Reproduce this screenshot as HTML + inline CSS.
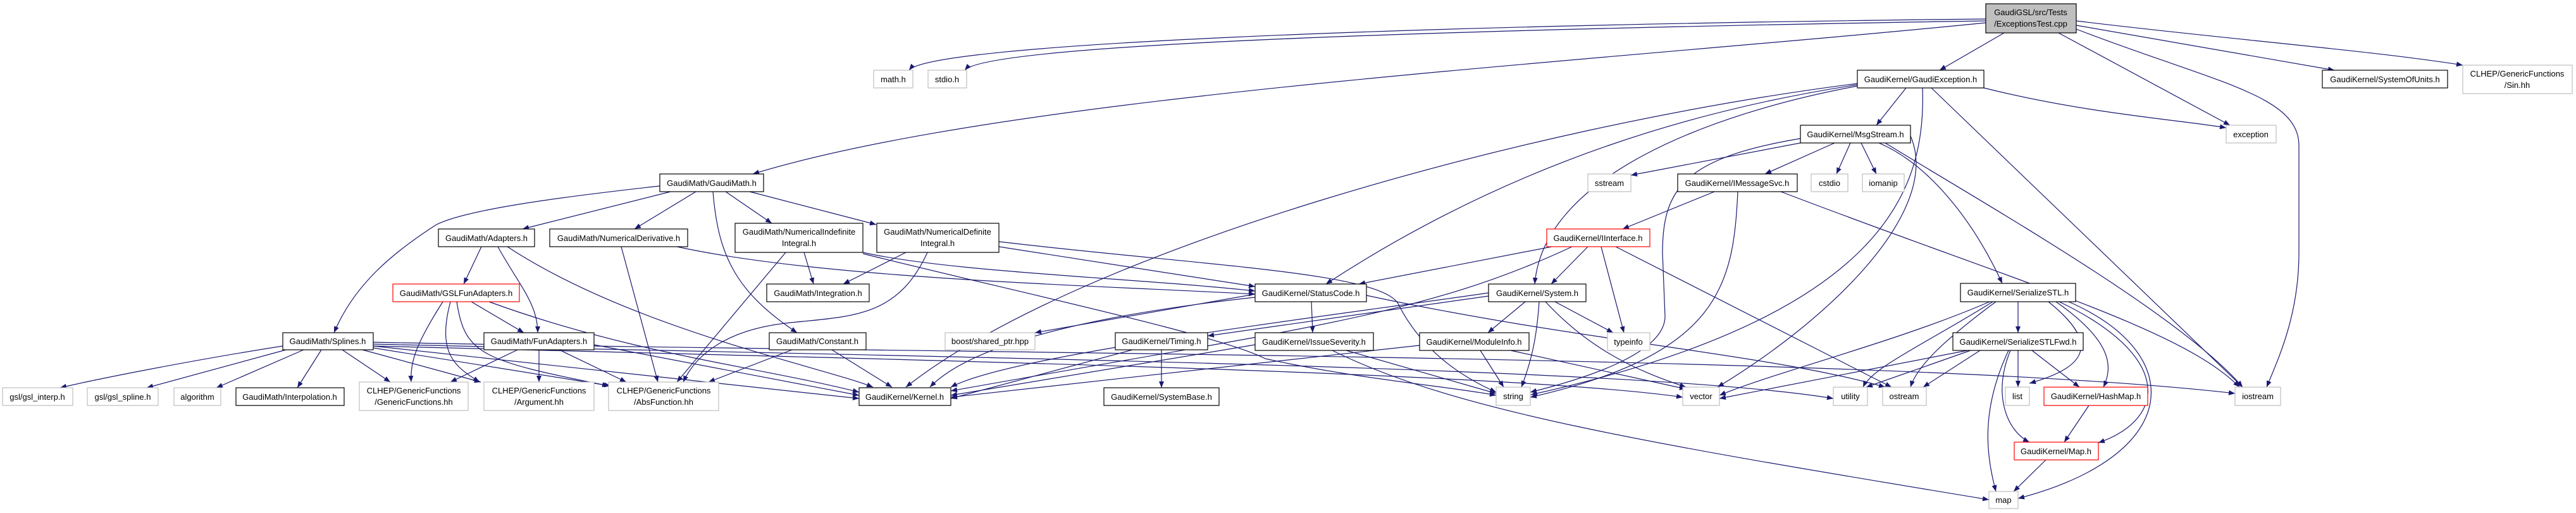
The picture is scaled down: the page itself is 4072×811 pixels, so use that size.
<!DOCTYPE html>
<html><head><meta charset="utf-8"><style>
html,body{margin:0;padding:0;background:#fff;}
svg{display:block;}
text{font-family:"Liberation Sans",sans-serif;font-size:13px;text-anchor:middle;fill:#000;}
.e{fill:none;stroke:#191970;stroke-width:1.2;marker-end:url(#a);}
.b{fill:#fff;stroke:#000;stroke-width:1.2;}
.g{fill:#fff;stroke:#bfbfbf;stroke-width:1.2;}
.r{fill:#fff;stroke:#ff0000;stroke-width:1.2;}
.s{fill:#bfbfbf;stroke:none;}
</style></head><body>
<svg width="4072" height="811" viewBox="0 0 4072 811" xmlns="http://www.w3.org/2000/svg">
<defs><marker id="a" markerUnits="userSpaceOnUse" markerWidth="11" markerHeight="9" refX="10" refY="4" orient="auto"><path d="M0,0 L10,4 L0,8 z" fill="#191970"/></marker></defs>
<g>
<!-- top node edges -->
<path class="e" d="M3139,30 C2200,40 1470,70 1437,111"/>
<path class="e" d="M3139,33 C2200,48 1560,72 1525,111"/>
<path class="e" d="M3139,36 C2500,100 1600,150 1190,275"/>
<path class="e" d="M3168,52 L3066,111"/>
<path class="e" d="M3254,52 L3525,198"/>
<path class="e" d="M3282,46 C3500,130 3634,150 3634,230 L3634,400 C3634,500 3600,570 3583,612"/>
<path class="e" d="M3282,40 L3690,111"/>
<path class="e" d="M3282,33 C3500,60 3750,80 3893,103"/>
<!-- GaudiException -->
<path class="e" d="M3013,139 L2966,198"/>
<path class="e" d="M3136,139 C3300,180 3450,190 3519,202"/>
<path class="e" d="M2936,134 C2700,170 2400,250 2096,449"/>
<path class="e" d="M2936,136 C2700,180 2440,280 2426,449"/>
<path class="e" d="M2936,132 C2400,200 1700,400 1432,612"/>
<path class="e" d="M3039,139 C3045,300 2980,500 2420,624"/>
<path class="e" d="M3053,139 L3545,612"/>
<!-- MsgStream -->
<path class="e" d="M2846,226 L2578,277"/>
<path class="e" d="M2900,226 L2790,275"/>
<path class="e" d="M2925,226 L2903,275"/>
<path class="e" d="M2942,226 L2966,275"/>
<path class="e" d="M2846,219 C2660,250 2628,300 2628,400 L2632,500 C2632,560 2500,600 2419,620"/>
<path class="e" d="M2970,226 C3050,260 3120,350 3165,448"/>
<path class="e" d="M2980,226 C3150,330 3450,500 3545,612"/>
<path class="e" d="M3020,215 C3070,330 2900,500 2715,612"/>
<!-- IMessageSvc -->
<path class="e" d="M2710,303 L2565,362"/>
<path class="e" d="M2747,303 C2740,450 2720,560 2419,628"/>
<path class="e" d="M2815,303 C3200,450 3450,520 3540,612"/>
<!-- IInterface -->
<path class="e" d="M2453,390 L2148,449"/>
<path class="e" d="M2510,390 L2452,449"/>
<path class="e" d="M2485,390 C2250,500 2050,520 1503,618"/>
<path class="e" d="M2531,390 L2567,526"/>
<path class="e" d="M2554,390 L2990,612"/>
<!-- StatusCode -->
<path class="e" d="M2073,477 L2075,526"/>
<path class="e" d="M1984,470 C1800,490 1550,530 1470,612"/>
<path class="e" d="M1984,465 L1636,526"/>
<path class="e" d="M2160,467 C2500,540 2800,560 2980,612"/>
<!-- System -->
<path class="e" d="M2353,463 C2100,500 1600,560 1503,612"/>
<path class="e" d="M2353,468 L1909,531"/>
<path class="e" d="M2411,477 L2352,526"/>
<path class="e" d="M2433,477 C2430,520 2425,560 2405,612"/>
<path class="e" d="M2458,477 L2550,526"/>
<path class="e" d="M2443,477 C2520,560 2600,590 2665,612"/>
<!-- IssueSeverity, ModuleInfo, Timing -->
<path class="e" d="M2128,554 L2365,622"/>
<path class="e" d="M1984,545 L1503,625"/>
<path class="e" d="M2106,554 C2300,650 2600,700 3144,790"/>
<path class="e" d="M2340,554 L2377,612"/>
<path class="e" d="M2388,554 L2665,615"/>
<path class="e" d="M2244,546 L1503,628"/>
<path class="e" d="M1790,553 L1503,630"/>
<path class="e" d="M1836,553 L1836,613"/>
<!-- SerializeSTL -->
<path class="e" d="M3190,477 L3190,526"/>
<path class="e" d="M3150,477 C3050,540 2960,580 2945,612"/>
<path class="e" d="M3155,477 C3070,540 3030,580 3020,612"/>
<path class="e" d="M3238,477 C3320,543 3300,580 3208,606"/>
<path class="e" d="M3250,477 C3340,540 3340,580 3325,612"/>
<path class="e" d="M3255,477 C3430,560 3430,660 3317,700"/>
<path class="e" d="M3270,477 C3460,560 3450,720 3190,788"/>
<path class="e" d="M3145,477 C3000,540 2800,590 2718,625"/>
<!-- Fwd -->
<path class="e" d="M3115,554 L2950,612"/>
<path class="e" d="M3130,554 L3040,612"/>
<path class="e" d="M3190,554 L3190,612"/>
<path class="e" d="M3212,554 L3287,612"/>
<path class="e" d="M3178,554 C3150,620 3170,680 3208,699"/>
<path class="e" d="M3175,554 C3130,650 3140,720 3155,777"/>
<path class="e" d="M3110,554 L2718,630"/>
<path class="e" d="M3302,641 L3263,699"/>
<path class="e" d="M3234,727 L3183,777"/>
<!-- GaudiMath -->
<path class="e" d="M1060,303 L826,362"/>
<path class="e" d="M1043,294 C900,310 740,330 690,355 C620,400 560,450 528,526"/>
<path class="e" d="M1100,303 L1003,362"/>
<path class="e" d="M1147,303 L1220,353"/>
<path class="e" d="M1185,303 L1385,355"/>
<path class="e" d="M1127,303 C1135,400 1160,460 1260,526"/>
<!-- Adapters -->
<path class="e" d="M761,390 L733,449"/>
<path class="e" d="M787,390 C820,450 850,480 850,526"/>
<path class="e" d="M802,390 C1000,520 1300,580 1380,612"/>
<!-- Numerical -->
<path class="e" d="M982,390 L1040,604"/>
<path class="e" d="M1070,390 C1300,440 1700,450 1984,465"/>
<path class="e" d="M1271,399 L1286,449"/>
<path class="e" d="M1242,399 L1070,604"/>
<path class="e" d="M1364,399 C1500,430 1800,440 1984,460"/>
<path class="e" d="M1364,401 C1600,460 1930,530 2000,567 C2150,600 2300,612 2365,625"/>
<path class="e" d="M1432,399 L1333,449"/>
<path class="e" d="M1466,399 C1420,500 1350,500 1250,510 C1150,520 1100,560 1080,604"/>
<path class="e" d="M1579,390 L1984,453"/>
<path class="e" d="M1579,382 C1900,420 2180,430 2210,480 C2250,560 2320,600 2365,620"/>
<!-- GSLFunAdapters -->
<path class="e" d="M745,477 L828,526"/>
<path class="e" d="M700,477 C660,540 648,570 650,604"/>
<path class="e" d="M712,477 C690,560 720,580 758,604"/>
<path class="e" d="M722,477 C735,560 760,570 962,610"/>
<path class="e" d="M773,477 C1000,560 1200,580 1358,620"/>
<!-- FunAdapters -->
<path class="e" d="M818,553 L712,604"/>
<path class="e" d="M852,553 L852,604"/>
<path class="e" d="M884,553 L990,604"/>
<path class="e" d="M939,545 L1358,625"/>
<!-- Splines -->
<path class="e" d="M447,547 C300,570 150,600 95,613"/>
<path class="e" d="M452,553 L232,613"/>
<path class="e" d="M480,553 L342,613"/>
<path class="e" d="M508,553 L470,613"/>
<path class="e" d="M541,553 L617,604"/>
<path class="e" d="M573,553 L760,604"/>
<path class="e" d="M590,550 L965,610"/>
<path class="e" d="M590,547 L1358,630"/>
<path class="e" d="M590,541 C1500,560 3000,560 3533,622"/>
<path class="e" d="M590,544 C1500,565 2600,580 2898,630"/>
<path class="e" d="M590,547 C1500,570 2400,590 2660,628"/>
<!-- Constant -->
<path class="e" d="M1252,553 L1120,604"/>
<path class="e" d="M1315,553 L1410,612"/>
</g>
<g>
<rect class="s" x="3139" y="6" width="143" height="46"/><rect x="3139" y="6" width="143" height="46" fill="#bfbfbf" stroke="#000" stroke-width="1.2"/><text x="3210" y="24">GaudiGSL/src/Tests</text><text x="3210" y="42">/ExceptionsTest.cpp</text>
<rect class="g" x="1381" y="111" width="62" height="28"/><text x="1412" y="130">math.h</text>
<rect class="g" x="1467" y="111" width="61" height="28"/><text x="1497" y="130">stdio.h</text>
<rect class="b" x="1043" y="275" width="164" height="28"/><text x="1125" y="294">GaudiMath/GaudiMath.h</text>
<rect class="b" x="2936" y="111" width="200" height="28"/><text x="3036" y="130">GaudiKernel/GaudiException.h</text>
<rect class="b" x="3671" y="111" width="198" height="28"/><text x="3770" y="130">GaudiKernel/SystemOfUnits.h</text>
<rect class="g" x="3893" y="103" width="173" height="45"/><text x="3979" y="121">CLHEP/GenericFunctions</text><text x="3979" y="139">/Sin.hh</text>
<rect class="g" x="3519" y="198" width="79" height="28"/><text x="3558" y="217">exception</text>
<rect class="b" x="2846" y="198" width="174" height="28"/><text x="2933" y="217">GaudiKernel/MsgStream.h</text>
<rect class="g" x="2510" y="275" width="68" height="28"/><text x="2544" y="294">sstream</text>
<rect class="b" x="2652" y="275" width="189" height="28"/><text x="2746" y="294">GaudiKernel/IMessageSvc.h</text>
<rect class="g" x="2863" y="275" width="58" height="28"/><text x="2892" y="294">cstdio</text>
<rect class="g" x="2944" y="275" width="66" height="28"/><text x="2977" y="294">iomanip</text>
<rect class="r" x="2445" y="362" width="163" height="28"/><text x="2526" y="381">GaudiKernel/IInterface.h</text>
<rect class="b" x="693" y="362" width="152" height="28"/><text x="769" y="381">GaudiMath/Adapters.h</text>
<rect class="b" x="869" y="362" width="218" height="28"/><text x="978" y="381">GaudiMath/NumericalDerivative.h</text>
<rect class="b" x="1162" y="353" width="202" height="46"/><text x="1263" y="371">GaudiMath/NumericalIndefinite</text><text x="1263" y="389">Integral.h</text>
<rect class="b" x="1386" y="353" width="193" height="46"/><text x="1482" y="371">GaudiMath/NumericalDefinite</text><text x="1482" y="389">Integral.h</text>
<rect class="r" x="621" y="449" width="200" height="28"/><text x="721" y="468">GaudiMath/GSLFunAdapters.h</text>
<rect class="b" x="1212" y="449" width="162" height="28"/><text x="1293" y="468">GaudiMath/Integration.h</text>
<rect class="b" x="1984" y="449" width="176" height="28"/><text x="2072" y="468">GaudiKernel/StatusCode.h</text>
<rect class="b" x="2353" y="449" width="154" height="28"/><text x="2430" y="468">GaudiKernel/System.h</text>
<rect class="b" x="3099" y="448" width="182" height="29"/><text x="3190" y="467">GaudiKernel/SerializeSTL.h</text>
<rect class="b" x="447" y="526" width="143" height="27"/><text x="518" y="544">GaudiMath/Splines.h</text>
<rect class="b" x="765" y="526" width="174" height="27"/><text x="852" y="544">GaudiMath/FunAdapters.h</text>
<rect class="b" x="1216" y="526" width="153" height="27"/><text x="1292" y="544">GaudiMath/Constant.h</text>
<rect class="g" x="1494" y="526" width="142" height="27"/><text x="1565" y="544">boost/shared_ptr.hpp</text>
<rect class="b" x="1763" y="526" width="146" height="27"/><text x="1836" y="544">GaudiKernel/Timing.h</text>
<rect class="b" x="1984" y="526" width="187" height="28"/><text x="2077" y="545">GaudiKernel/IssueSeverity.h</text>
<rect class="b" x="2244" y="526" width="173" height="28"/><text x="2330" y="545">GaudiKernel/ModuleInfo.h</text>
<rect class="g" x="2541" y="526" width="67" height="28"/><text x="2574" y="545">typeinfo</text>
<rect class="b" x="3087" y="526" width="206" height="28"/><text x="3190" y="545">GaudiKernel/SerializeSTLFwd.h</text>
<rect class="g" x="4" y="613" width="111" height="28"/><text x="59" y="632">gsl/gsl_interp.h</text>
<rect class="g" x="138" y="613" width="112" height="28"/><text x="194" y="632">gsl/gsl_spline.h</text>
<rect class="g" x="275" y="613" width="74" height="28"/><text x="312" y="632">algorithm</text>
<rect class="b" x="373" y="613" width="171" height="28"/><text x="458" y="632">GaudiMath/Interpolation.h</text>
<rect class="g" x="568" y="604" width="172" height="45"/><text x="654" y="622">CLHEP/GenericFunctions</text><text x="654" y="640">/GenericFunctions.hh</text>
<rect class="g" x="765" y="604" width="174" height="45"/><text x="852" y="622">CLHEP/GenericFunctions</text><text x="852" y="640">/Argument.hh</text>
<rect class="g" x="962" y="604" width="174" height="45"/><text x="1049" y="622">CLHEP/GenericFunctions</text><text x="1049" y="640">/AbsFunction.hh</text>
<rect class="b" x="1358" y="613" width="145" height="28"/><text x="1430" y="632">GaudiKernel/Kernel.h</text>
<rect class="b" x="1745" y="613" width="182" height="28"/><text x="1836" y="632">GaudiKernel/SystemBase.h</text>
<rect class="g" x="2365" y="612" width="54" height="29"/><text x="2392" y="631">string</text>
<rect class="g" x="2660" y="612" width="58" height="29"/><text x="2689" y="631">vector</text>
<rect class="g" x="2898" y="612" width="54" height="29"/><text x="2925" y="631">utility</text>
<rect class="g" x="2976" y="612" width="69" height="29"/><text x="3010" y="631">ostream</text>
<rect class="g" x="3170" y="612" width="38" height="29"/><text x="3189" y="631">list</text>
<rect class="r" x="3231" y="612" width="164" height="29"/><text x="3313" y="631">GaudiKernel/HashMap.h</text>
<rect class="g" x="3533" y="612" width="72" height="29"/><text x="3569" y="631">iostream</text>
<rect class="r" x="3184" y="699" width="133" height="28"/><text x="3250" y="718">GaudiKernel/Map.h</text>
<rect class="g" x="3144" y="777" width="46" height="27"/><text x="3167" y="795">map</text>
</g>
</svg>
</body></html>
